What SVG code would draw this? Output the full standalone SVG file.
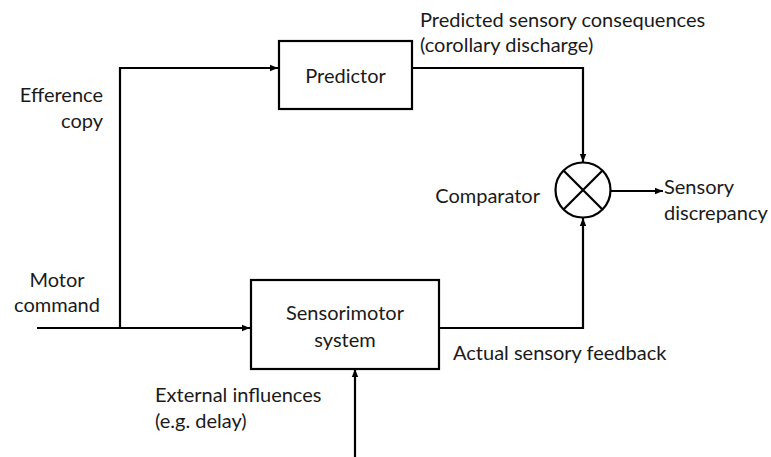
<svg xmlns="http://www.w3.org/2000/svg" width="771" height="457" viewBox="0 0 771 457">
<style>
text{font-family:Lato,"Liberation Sans",sans-serif;font-size:20px;fill:#1a1a1a}
.box{fill:#fff;stroke:#000;stroke-width:2.2}
.ln{fill:none;stroke:#000;stroke-width:2.2}
</style>
<defs>
<marker id="ah" markerWidth="8" markerHeight="8" refX="8" refY="4" orient="auto" markerUnits="userSpaceOnUse">
<path d="M0,0.8 L8,4 L0,7.2 Z" fill="#000"/>
</marker>
</defs>
<rect width="771" height="457" fill="#fff"/>
<g id="connectors">
<path class="ln" d="M120,328 V68 H278" marker-end="url(#ah)"/>
<path class="ln" d="M412,68 H583 V162" marker-end="url(#ah)"/>
<path class="ln" d="M37,328 H250" marker-end="url(#ah)"/>
<path class="ln" d="M439,328 H583 V218" marker-end="url(#ah)"/>
<path class="ln" d="M355,457 V369" marker-end="url(#ah)"/>
<path class="ln" d="M611,191 H663" marker-end="url(#ah)"/>
</g>
<g id="predictor">
<rect class="box" x="279" y="41" width="133" height="68"/>
<text x="345.5" y="83" text-anchor="middle">Predictor</text>
</g>
<g id="sensorimotor">
<rect class="box" x="251" y="280" width="188" height="89"/>
<text x="345" y="320" text-anchor="middle">Sensorimotor</text>
<text x="345" y="347" text-anchor="middle">system</text>
</g>
<g id="comparator">
<circle class="ln" cx="583" cy="190" r="27.5"/>
<path class="ln" d="M563.5,170.5 L602.5,209.5 M602.5,170.5 L563.5,209.5"/>
</g>
<g id="labels">
<text x="420" y="27">Predicted sensory consequences</text>
<text x="420" y="52">(corollary discharge)</text>
<text x="103" y="102" text-anchor="end">Efference</text>
<text x="103" y="128" text-anchor="end">copy</text>
<text x="540" y="203" text-anchor="end">Comparator</text>
<text x="664" y="194">Sensory</text>
<text x="664" y="220">discrepancy</text>
<text x="57" y="287" text-anchor="middle">Motor</text>
<text x="57" y="312" text-anchor="middle">command</text>
<text x="453" y="360">Actual sensory feedback</text>
<text x="155" y="402">External influences</text>
<text x="155" y="428">(e.g. delay)</text>
</g>
</svg>
